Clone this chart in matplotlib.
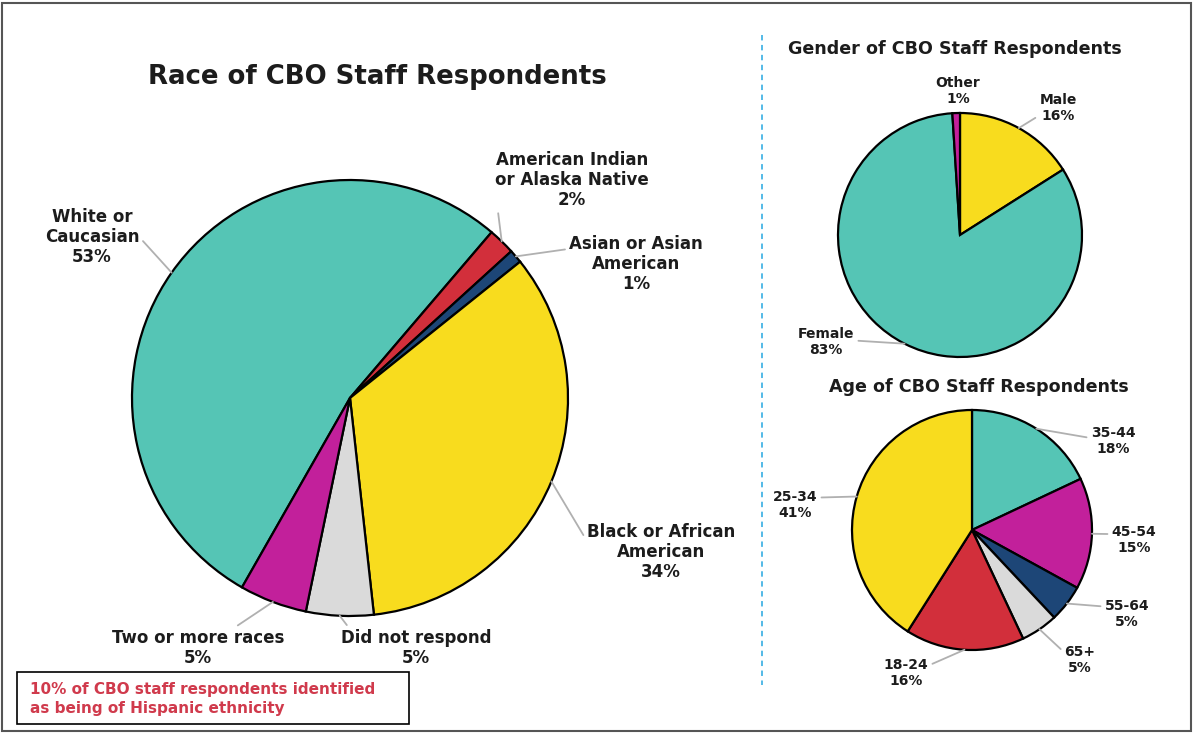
import matplotlib
matplotlib.use('Agg')
import matplotlib.pyplot as plt
import numpy as np
from matplotlib.patches import Rectangle
from matplotlib.lines import Line2D

W, H = 1194, 733

# survey breakdowns
race_labels = ['White or\nCaucasian', 'American Indian\nor Alaska Native',
               'Asian or Asian\nAmerican', 'Black or African\nAmerican',
               'Did not respond', 'Two or more races']
race_values = [53, 2, 1, 34, 5, 5]

gender_labels = ['Male', 'Female', 'Other']
gender_values = [16, 83, 1]

age_labels = ['35-44', '45-54', '55-64', '65+', '18-24', '25-34']
age_values = [18, 15, 5, 5, 16, 41]

TEAL = '#55c5b5'
YELLOW = '#f8dc1e'
RED = '#d22f3b'
NAVY = '#1d4677'
MAGENTA = '#c2209b'
GRAY = '#dadada'
LEADER = '#b0b0b0'
INK = '#1c1c1c'

race_colors = [TEAL, RED, NAVY, YELLOW, GRAY, MAGENTA]
gender_colors = [YELLOW, TEAL, MAGENTA]
age_colors = [TEAL, MAGENTA, NAVY, GRAY, RED, YELLOW]

plt.rcParams['font.family'] = ['DejaVu Sans']
plt.rcParams['font.weight'] = 'bold'

fig = plt.figure(figsize=(W / 100, H / 100), dpi=100)


def px(x, y):
    # image pixel (top-left origin) -> figure pixels
    return (x, H - y)


def pie_axes(cx, cy, r, values, colors, start, m=1.04):
    s = r * m
    ax = fig.add_axes([(cx - s) / W, (H - cy - s) / H, 2 * s / W, 2 * s / H])
    wedges, _ = ax.pie(values, colors=colors, startangle=start, counterclock=False,
                       wedgeprops=dict(edgecolor='black', linewidth=1.6))
    ax.set_xlim(-m, m)
    ax.set_ylim(-m, m)
    ax.set_aspect('equal')
    ax.axis('off')
    return ax, wedges


def label(ax, wedge, text, pos, relpos, size, leader=True):
    mid = np.deg2rad((wedge.theta1 + wedge.theta2) / 2)
    xy = (np.cos(mid), np.sin(mid))
    props = None
    if leader:
        props = dict(arrowstyle='-', color=LEADER, lw=1.3, shrinkA=1, shrinkB=0,
                     relpos=relpos)
    ax.annotate(text, xy=xy, xytext=px(*pos), textcoords='figure pixels',
                ha='center', va='center', fontsize=size, color=INK,
                linespacing=1.15, arrowprops=props, annotation_clip=False)


# race
ax_r, w_r = pie_axes(350, 398, 218, race_values, race_colors, 240.3)
race_pos = [(92, 237), (572, 180), (636, 264), (661, 552), (416, 648), (198, 648)]
race_rel = [(1, 0.5), (0, 0.35), (0, 0.76), (0, 0.69), (0.06, 1), (0.7, 1)]
for w, lab, v, p, rp in zip(w_r, race_labels, race_values, race_pos, race_rel):
    label(ax_r, w, f'{lab}\n{v}%', p, rp, 12)

# gender
ax_g, w_g = pie_axes(960, 235, 122, gender_values, gender_colors, 90)
gender_pos = [(1058, 108), (826, 342), (958, 91)]
gender_rel = [(0, 0.25), (1, 0.55), (0.5, 0)]
for w, lab, v, p, rp in zip(w_g, gender_labels, gender_values, gender_pos, gender_rel):
    label(ax_g, w, f'{lab}\n{v}%', p, rp, 10, leader=(lab != 'Other'))

# age
ax_a, w_a = pie_axes(972, 530, 120, age_values, age_colors, 90)
age_pos = [(1113, 441), (1134, 540), (1127, 614), (1080, 660), (906, 673), (795, 505)]
age_rel = [(0, 0.6), (0, 0.7), (0, 0.75), (0, 0.75), (1, 0.75), (1, 0.75)]
for w, lab, v, p, rp in zip(w_a, age_labels, age_values, age_pos, age_rel):
    label(ax_a, w, f'{lab}\n{v}%', p, rp, 10)

# titles
fig.text(377 / W, 1 - 77 / H, 'Race of CBO Staff Respondents', ha='center', va='center',
         fontsize=18.7, color=INK)
fig.text(955 / W, 1 - 49 / H, 'Gender of CBO Staff Respondents', ha='center', va='center',
         fontsize=12.6, color=INK)
fig.text(979 / W, 1 - 387 / H, 'Age of CBO Staff Respondents', ha='center', va='center',
         fontsize=12.6, color=INK)

# divider between the big pie and the two small ones
fig.add_artist(Line2D([762 / W, 762 / W], [1 - 35 / H, 1 - 685 / H], color='#45b4e5',
                      lw=1.3, linestyle=(0, (3, 2.5))))

# hispanic note
fig.add_artist(Rectangle((17 / W, 1 - 724 / H), (409 - 17) / W, (724 - 672) / H,
                         facecolor='white', edgecolor='black', lw=1.2))
fig.text(30 / W, 1 - 699 / H,
         '10% of CBO staff respondents identified\nas being of Hispanic ethnicity',
         ha='left', va='center', fontsize=11, color='#d03a4c', linespacing=1.35)

# outer frame
fig.add_artist(Rectangle((2 / W, 2 / H), (W - 5) / W, (H - 5) / H, facecolor='none',
                         edgecolor='#555555', lw=1.5))

fig.savefig('out.png', dpi=100)
